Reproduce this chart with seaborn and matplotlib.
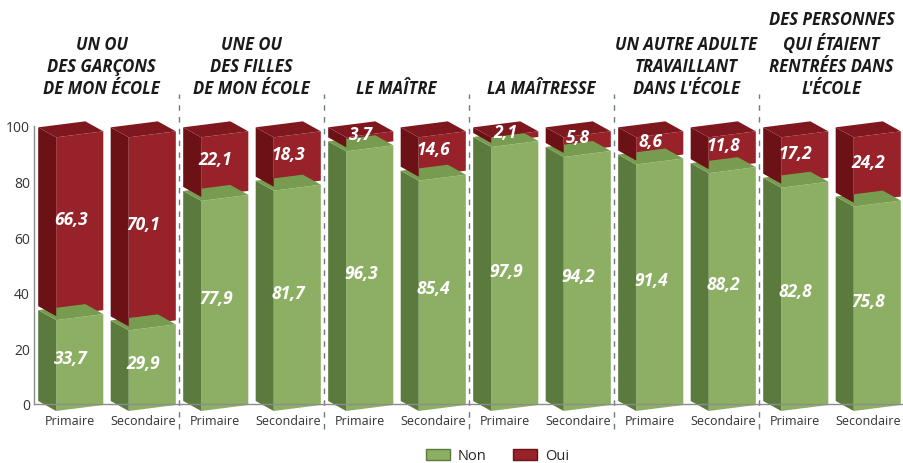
import numpy as np
import pandas as pd
import matplotlib
matplotlib.use('Agg')
import matplotlib.pyplot as plt
import seaborn as sns
from matplotlib.patches import Polygon, Patch
from matplotlib.transforms import Affine2D, IdentityTransform

# Données
titres = ["UN OU\nDES GARÇONS\nDE MON ÉCOLE",
          "UNE OU\nDES FILLES\nDE MON ÉCOLE",
          "LE MAÎTRE",
          "LA MAÎTRESSE",
          "UN AUTRE ADULTE\nTRAVAILLANT\nDANS L'ÉCOLE",
          "DES PERSONNES\nQUI ÉTAIENT\nRENTRÉES DANS\nL'ÉCOLE"]
niveaux = ["Primaire", "Secondaire"] * 6
non = [33.7, 29.9, 77.9, 81.7, 96.3, 85.4, 97.9, 94.2, 91.4, 88.2, 82.8, 75.8]
oui = [66.3, 70.1, 22.1, 18.3, 3.7, 14.6, 2.1, 5.8, 8.6, 11.8, 17.2, 24.2]

VERT = dict(front='#8DAF63', side='#5B7A3E', top='#779C50')
ROUGE = dict(front='#97222A', side='#6C1116', top='#7E181E')

sns.set_theme(style='white')
plt.rcParams['font.family'] = ['Open Sans', 'DejaVu Sans']

df = pd.DataFrame({'barre': range(12), 'niveau': niveaux, 'Non': non, 'Oui': oui})

W, H = 904, 464
fig = plt.figure(figsize=(W / 100, H / 100), dpi=100)
ax = fig.add_axes([34 / W, 59 / H, 870 / W, 278 / H])

sns.barplot(data=df, x='barre', y='Non', order=range(12), color=VERT['front'],
            saturation=1, width=0.65, linewidth=0, ax=ax)
sns.barplot(data=df, x='barre', y='Oui', order=range(12), color=ROUGE['front'],
            saturation=1, width=0.65, linewidth=0, ax=ax)
ax.set_xlim(-0.5, 11.5)
ax.set_ylim(0, 100)

barres_non = ax.patches[:12]
barres_oui = ax.patches[12:24]
for p, b in zip(barres_oui, df['Non']):
    p.set_y(b)  # empilement

# effet 3D (pixels)
PROF = np.array([-18.0, 10.0])
PENTE = 6 / 47
ECRASE = 0.97
DESCENTE = 7
ECART = 4
DECAL_X = 9.5
y0 = ax.transData.transform((0, 0))[1]


def boite(p, couleurs, ecart, valeur):
    x0, x1 = p.get_x(), p.get_x() + p.get_width()
    yb, yt = p.get_y(), p.get_y() + p.get_height()
    xd0 = ax.transData.transform((x0, 0))[0]
    m = (Affine2D().translate(-xd0, -y0)
         + Affine2D(np.array([[1, 0, 0], [PENTE, ECRASE, 0], [0, 0, 1]]))
         + Affine2D().translate(xd0 + DECAL_X, y0 - DESCENTE + ecart))
    t = ax.transData + m
    p.set_transform(t)
    p.set_clip_on(False)
    bl, br, tr, tl = t.transform([(x0, yb), (x1, yb), (x1, yt), (x0, yt)])
    for pts, c in [([bl, tl, tl + PROF, bl + PROF], couleurs['side']),
                   ([tl, tr, tr + PROF, tl + PROF], couleurs['top'])]:
        ax.add_patch(Polygon(pts, closed=True, transform=IdentityTransform(),
                             facecolor=c, edgecolor='none', clip_on=False))
    cx, cy = (bl + br + tr + tl) / 4 + PROF / 2
    ax.annotate(f"{valeur:.1f}".replace('.', ','), xy=(cx, cy), xycoords='figure pixels',
                ha='center', va='center', color='white', fontsize=12.5,
                fontweight='bold', fontstyle='italic', zorder=5)


for p, v in zip(barres_non, non):
    boite(p, VERT, 0, v)
for p, v in zip(barres_oui, oui):
    boite(p, ROUGE, ECART, v)

# séparateurs
ax.vlines([1.5, 3.5, 5.5, 7.5, 9.5], -9, 111.5, colors='#6E7B85',
          linestyles=(0, (4, 4.5)), linewidth=1, clip_on=False)

# titres des groupes
for g, titre in enumerate(titres):
    xc = ax.transData.transform((2 * g + 0.5, 0))[0]
    if g == 0:
        xc -= 5
    ax.annotate(titre, xy=(xc, 366), xycoords='figure pixels', ha='center', va='bottom',
                fontsize=12, fontweight='bold', fontstyle='italic', color='#1a1a1a',
                linespacing=1.3)

# axes
ax.set_xticks(range(12))
ax.set_xticklabels(niveaux, fontsize=9, color='#333333')
ax.set_xticks(np.arange(-0.5, 12, 1), minor=True)
ax.tick_params(axis='x', which='major', length=0, pad=7)
ax.tick_params(axis='x', which='minor', direction='in', length=5, color='#8C8C8C', width=1)
ax.set_yticks(range(0, 101, 20))
ax.tick_params(axis='y', direction='in', length=4, color='#8C8C8C', labelsize=10,
               labelcolor='#333333', pad=3)
ax.set_xlabel('')
ax.set_ylabel('')
for s in ['top', 'right']:
    ax.spines[s].set_visible(False)
for s in ['left', 'bottom']:
    ax.spines[s].set_color('#8C8C8C')
    ax.spines[s].set_linewidth(1)

fig.legend(handles=[Patch(facecolor=VERT['front'], edgecolor=VERT['side']),
                    Patch(facecolor=ROUGE['front'], edgecolor=ROUGE['side'])],
           labels=['Non', 'Oui'], loc='center', bbox_to_anchor=(0.55, 7 / H), ncol=2,
           frameon=False, fontsize=10.5, handlelength=1.7, handleheight=0.8,
           columnspacing=1.8, handletextpad=0.5, borderpad=0)

fig.savefig('out.png', dpi=100)
